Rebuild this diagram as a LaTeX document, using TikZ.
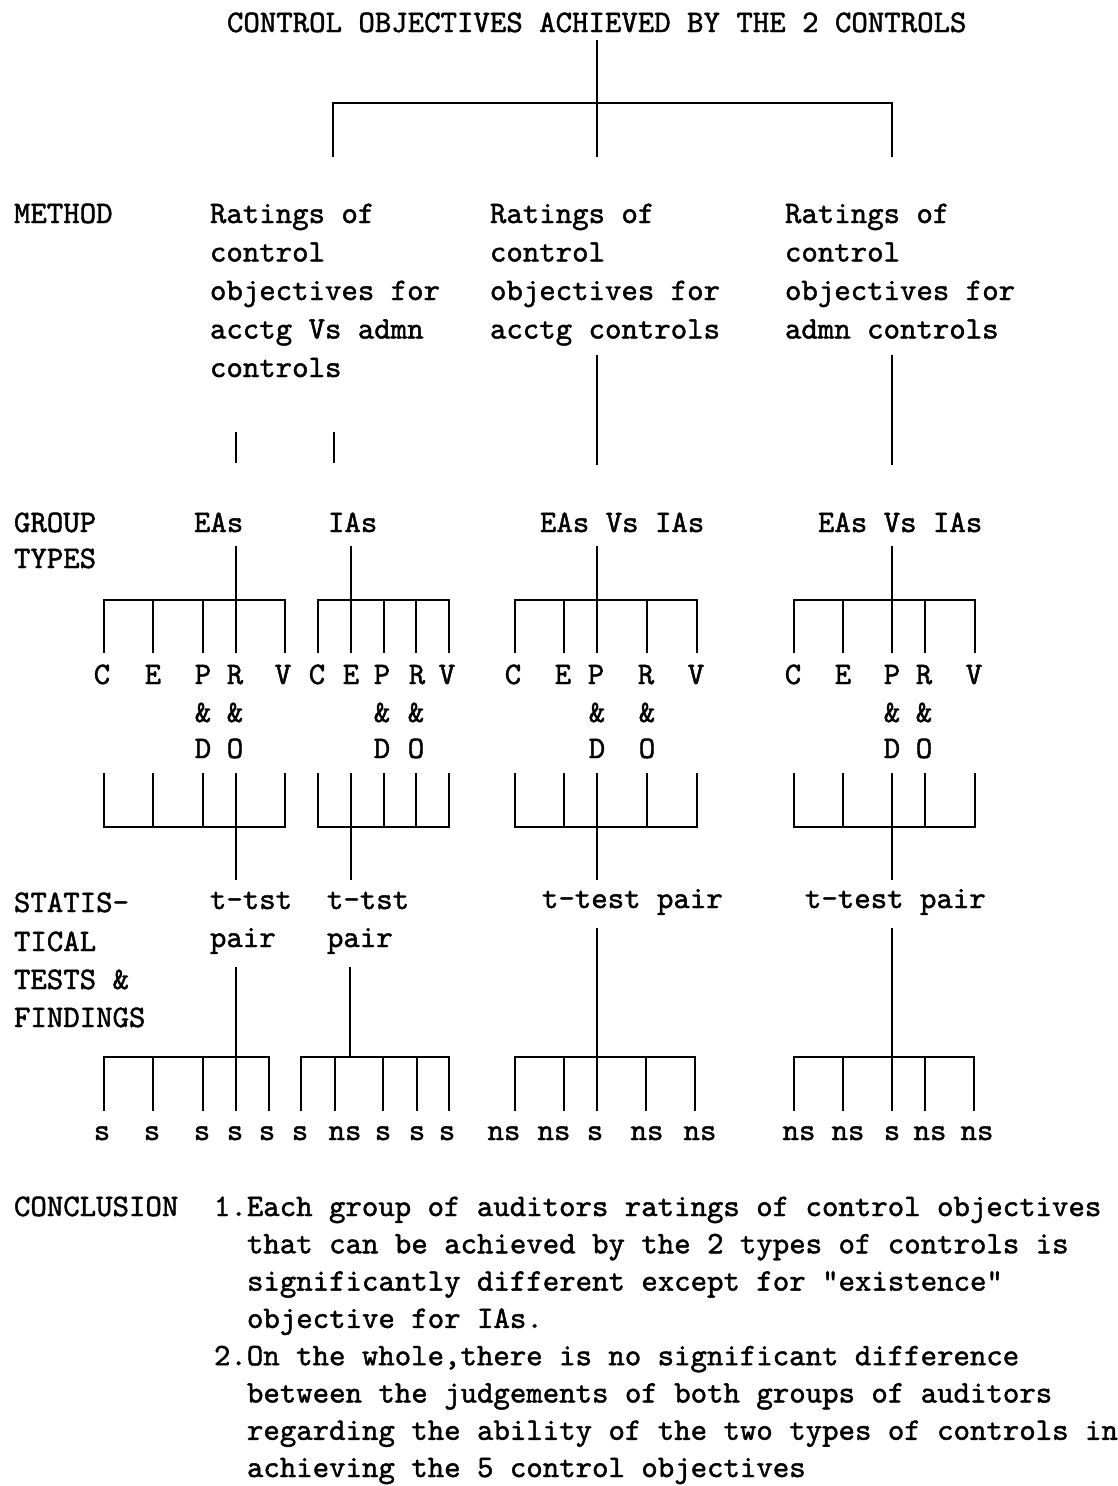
\documentclass[tikz,border=0pt]{standalone}
\usepackage{fontspec}
\newfontfamily\twfont{lmmono10-regular.otf}[FakeBold=1.4]
\begin{document}
\begin{tikzpicture}[x=1pt,y=-1pt,
  tw/.style={inner sep=0pt,outer sep=0pt,font=\twfont\fontsize{31.3}{38}\selectfont},
  txt/.style={tw,anchor=base west},
  lbl/.style={tw,anchor=base},
  stem/.style={line width=2pt},
  bar/.style={line width=2.6pt,line cap=rect}]
\fill[white] (0,0) rectangle (1117,1486);
\useasboundingbox (0,0) rectangle (1117,1486);

% ---------- heading and first split ----------
\node[txt] (title) at (227,32) {CONTROL OBJECTIVES ACHIEVED BY THE 2 CONTROLS};
\coordinate (t0) at (597,40);
\coordinate (tm) at (597,103);
\coordinate (tl) at (333,103);
\coordinate (tr) at (892,103);
\coordinate (tl2) at (333,157);
\coordinate (tm2) at (597,157);
\coordinate (tr2) at (892,157);
\draw[stem] (t0) -- (tm);
\draw[bar] (tl) -- (tr);
\draw[stem] (tl) -- (tl2);
\draw[stem] (tm) -- (tm2);
\draw[stem] (tr) -- (tr2);

% ---------- row headings ----------
\node[txt] (hmethod) at (14,223) {METHOD};
\node[txt] (hgroup1) at (14,532) {GROUP};
\node[txt] (hgroup2) at (14,568) {TYPES};
\node[txt] (hstat1) at (14,912) {STATIS-};
\node[txt] (hstat2) at (14,951) {TICAL};
\node[txt] (hstat3) at (14,989) {TESTS \&};
\node[txt] (hstat4) at (14,1027) {FINDINGS};
\node[txt] (hconc) at (14,1216) {CONCLUSION};

% ---------- methods ----------
\foreach \t [count=\i] in {Ratings of,control,objectives for,acctg Vs admn,controls}
  \node[txt] (ma\i) at (210,{223+38.5*(\i-1)}) {\t};
\foreach \t [count=\i] in {Ratings of,control,objectives for,acctg controls}
  \node[txt] (mc\i) at (490,{223+38.5*(\i-1)}) {\t};
\foreach \t [count=\i] in {Ratings of,control,objectives for,admn controls}
  \node[txt] (md\i) at (785,{223+38.5*(\i-1)}) {\t};

% method -> group links
\coordinate (sa1) at (236,432); \coordinate (sa2) at (236,463);
\coordinate (sb1) at (334,432); \coordinate (sb2) at (334,463);
\coordinate (sc1) at (597,355); \coordinate (sc2) at (597,465);
\coordinate (sd1) at (892,355); \coordinate (sd2) at (892,465);
\foreach \g in {a,b,c,d} \draw[stem] (s\g1) -- (s\g2);

% ---------- group types ----------
\node[txt] (gA) at (194,532) {EAs};
\node[txt] (gB) at (328,532) {IAs};
\node[txt] (gC) at (540,532) {EAs Vs IAs};
\node[txt] (gD) at (818,532) {EAs Vs IAs};

% group -> objectives brackets (upper) and objectives -> tests brackets (lower)
\foreach \g/\c/\xs in {A/236/{104,153,203,236,285},B/351/{318,351,384,416,449},
                      C/597/{515,564,597,647,697},D/892/{794,843,892,925,975}} {
  \coordinate (\g-s1) at (\c,546);
  \coordinate (\g-s2) at (\c,600);
  \draw[stem] (\g-s1) -- (\g-s2);
  \foreach \x [count=\i] in \xs {
    \coordinate (\g-u\i) at (\x,600);
    \coordinate (\g-ut\i) at (\x,653);
    \draw[stem] (\g-u\i) -- (\g-ut\i);
    \coordinate (\g-l\i) at (\x,827);
    \coordinate (\g-lt\i) at (\x,773);
    \draw[stem] (\g-lt\i) -- (\g-l\i);
  }
  \draw[bar] (\g-u1) -- (\g-u5);
  \draw[bar] (\g-l1) -- (\g-l5);
  \coordinate (\g-d1) at (\c,827);
  \coordinate (\g-d2) at (\c,880);
  \draw[stem] (\g-d1) -- (\g-d2);
}

% ---------- objectives ----------
\foreach \x/\t [count=\i] in {102/C,153/E,203/P,235/R,283/V}
  \node[lbl] (cA\i) at (\x,684) {\t};
\foreach \x/\t [count=\i] in {317/C,351/E,382/P,417/R,447/V}
  \node[lbl] (cB\i) at (\x,684) {\t};
\foreach \x/\t [count=\i] in {513/C,563/E,596/P,646/R,696/V}
  \node[lbl] (cC\i) at (\x,684) {\t};
\foreach \x/\t [count=\i] in {793/C,843/E,892/P,924/R,974/V}
  \node[lbl] (cD\i) at (\x,684) {\t};
\foreach \g/\p/\r in {A/203/235,B/382/416,C/597/647,D/892/924} {
  \node[lbl] (amp\g1) at (\p,722) {\&};
  \node[lbl] (amp\g2) at (\r,722) {\&};
  \node[lbl] (sfx\g1) at (\p,758) {D};
  \node[lbl] (sfx\g2) at (\r,758) {O};
}

% ---------- statistical tests ----------
\node[txt] (tA1) at (210,909) {t-tst};
\node[txt] (tA2) at (210,947) {pair};
\node[txt] (tB1) at (327,909) {t-tst};
\node[txt] (tB2) at (327,947) {pair};
\node[txt] (tC) at (542,908) {t-test pair};
\node[txt] (tD) at (805,908) {t-test pair};

\foreach \g/\c/\y/\xs in {A/236/967/{104,153,203,236,269},B/350/967/{301,335,383,417,449},
                          C/597/928/{515,564,597,646,695},D/892/928/{794,843,892,925,974}} {
  \coordinate (\g-f1) at (\c,\y);
  \coordinate (\g-f2) at (\c,1057);
  \draw[stem] (\g-f1) -- (\g-f2);
  \foreach \x [count=\i] in \xs {
    \coordinate (\g-r\i) at (\x,1057);
    \coordinate (\g-rt\i) at (\x,1111);
    \draw[stem] (\g-r\i) -- (\g-rt\i);
  }
  \draw[bar] (\g-r1) -- (\g-r5);
}

% ---------- findings ----------
\foreach \x/\t [count=\i] in {102/s,152/s,202/s,235/s,267/s}
  \node[lbl] (fA\i) at (\x,1140) {\t};
\foreach \x/\t [count=\i] in {300/s,345/ns,383/s,417/s,447/s}
  \node[lbl] (fB\i) at (\x,1140) {\t};
\foreach \x/\t [count=\i] in {504/ns,554/ns,595/s,647/ns,700/ns}
  \node[lbl] (fC\i) at (\x,1140) {\t};
\foreach \x/\t [count=\i] in {799/ns,848/ns,892/s,930/ns,977/ns}
  \node[lbl] (fD\i) at (\x,1140) {\t};

% ---------- conclusion ----------
\node[txt] (k1) at (214,1216) {1.Each group of auditors ratings of control objectives};
\node[txt] (k2) at (247,1253.3) {that can be achieved by the 2 types of controls is};
\node[txt] (k3) at (247,1290.6) {significantly different except for "existence"};
\node[txt] (k4) at (247,1327.9) {objective for IAs.};
\node[txt] (k5) at (214,1365.2) {2.On the whole,there is no significant difference};
\node[txt] (k6) at (247,1402.5) {between the judgements of both groups of auditors};
\node[txt] (k7) at (247,1439.8) {regarding the ability of the two types of controls in};
\node[txt] (k8) at (247,1477) {achieving the 5 control objectives};
\end{tikzpicture}
\end{document}
